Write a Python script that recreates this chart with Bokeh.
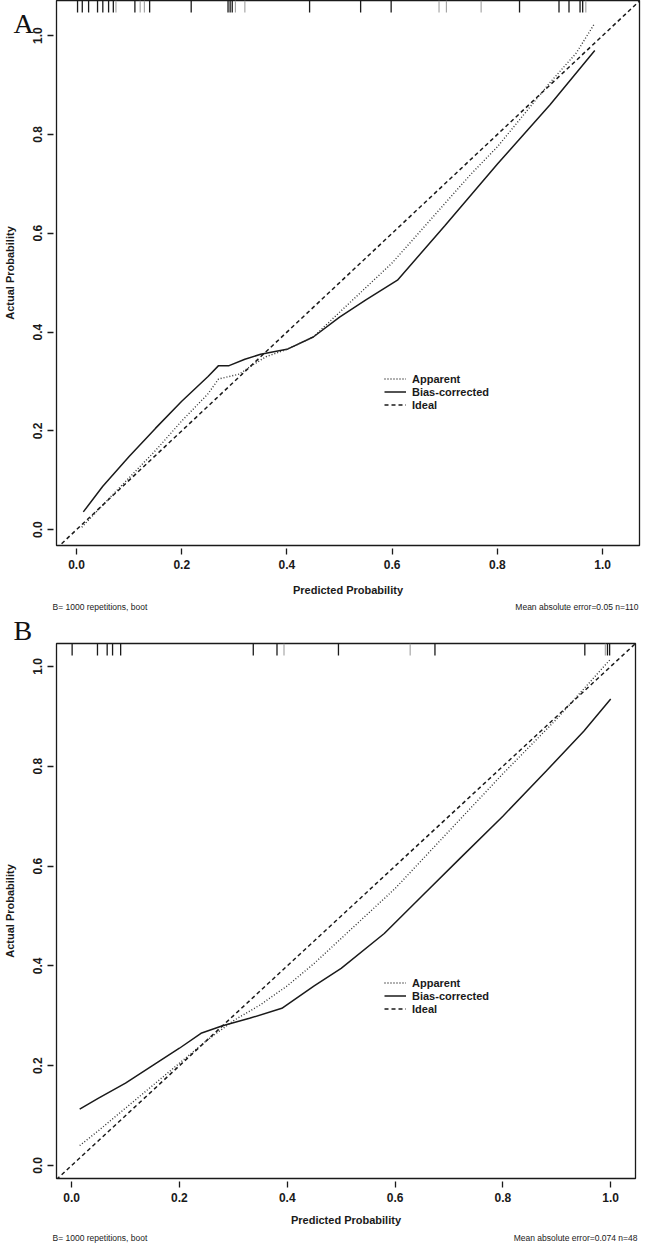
from bokeh.plotting import figure
from bokeh.layouts import column
from bokeh.models import Range1d, FixedTicker, PrintfTickFormatter, Label, Legend, LegendItem, Title
from bokeh.embed import file_html
from bokeh.resources import INLINE

TICKS = [0.0, 0.2, 0.4, 0.6, 0.8, 1.0]

# ---------------- Panel A data ----------------
a_app_x = [0.01, 0.05, 0.10, 0.15, 0.20, 0.25, 0.27, 0.29, 0.31, 0.33, 0.36, 0.40, 0.45, 0.50,
           0.55, 0.60, 0.65, 0.70, 0.75, 0.80, 0.85, 0.90, 0.95, 0.985]
a_app_y = [0.005, 0.05, 0.105, 0.16, 0.22, 0.275, 0.305, 0.31, 0.315, 0.33, 0.35, 0.365, 0.39, 0.44,
           0.49, 0.54, 0.60, 0.66, 0.72, 0.775, 0.84, 0.905, 0.965, 1.025]
a_bc_x = [0.013, 0.05, 0.10, 0.15, 0.20, 0.25, 0.27, 0.29, 0.32, 0.35, 0.40, 0.45, 0.50, 0.55,
          0.61, 0.70, 0.80, 0.90, 0.985]
a_bc_y = [0.036, 0.088, 0.148, 0.205, 0.26, 0.31, 0.332, 0.332, 0.345, 0.355, 0.365, 0.39, 0.43,
          0.465, 0.505, 0.615, 0.74, 0.86, 0.97]
a_rug_dark = [0.002, 0.011, 0.023, 0.040, 0.050, 0.061, 0.070, 0.111, 0.139, 0.218, 0.288, 0.292,
              0.296, 0.443, 0.540, 0.598, 0.842, 0.917, 0.936, 0.957, 0.962]
a_rug_light = [0.075, 0.121, 0.129, 0.302, 0.320, 0.689, 0.703, 0.769, 0.968]
a_footer_left = "B= 1000 repetitions, boot"
a_footer_right = "Mean absolute error=0.05 n=110"

# ---------------- Panel B data ----------------
b_app_x = [0.015, 0.05, 0.10, 0.15, 0.20, 0.25, 0.30, 0.35, 0.40, 0.45, 0.50, 0.60, 0.70,
           0.80, 0.90, 0.95, 1.0]
b_app_y = [0.04, 0.07, 0.115, 0.16, 0.205, 0.25, 0.29, 0.322, 0.36, 0.405, 0.455, 0.555, 0.67,
           0.785, 0.895, 0.955, 1.015]
b_bc_x = [0.015, 0.05, 0.10, 0.15, 0.20, 0.24, 0.28, 0.33, 0.39, 0.45, 0.50, 0.58, 0.65, 0.72,
          0.80, 0.88, 0.95, 1.0]
b_bc_y = [0.113, 0.135, 0.165, 0.2, 0.235, 0.265, 0.28, 0.295, 0.315, 0.36, 0.395, 0.465, 0.54,
          0.615, 0.70, 0.79, 0.87, 0.935]
b_rug_dark = [0.001, 0.048, 0.066, 0.076, 0.091, 0.337, 0.381, 0.495, 0.674, 0.952, 0.994, 0.998]
b_rug_light = [0.394, 0.628, 0.990]
b_footer_left = "B= 1000 repetitions, boot"
b_footer_right = "Mean absolute error=0.074 n=48"

INK = "#1a1a1a"
SANS = "Liberation Sans"


def make_panel(letter, letter_standoff, app_x, app_y, bc_x, bc_y, rug_dark, rug_light,
               xr, yr, height, frame_h, b_top, b_right, b_bottom, xlab_standoff, leg_loc):
    p = figure(width=649, height=height, x_range=Range1d(*xr), y_range=Range1d(*yr),
               output_backend="svg", toolbar_location=None, frame_align=False,
               min_border_left=55, min_border_right=b_right, min_border_top=b_top,
               min_border_bottom=b_bottom, background_fill_color="white",
               border_fill_color="white")
    p.grid.visible = False
    p.outline_line_color = INK
    p.outline_line_width = 1.3

    for ax in (p.xaxis[0], p.yaxis[0]):
        ax.ticker = FixedTicker(ticks=TICKS)
        ax.formatter = PrintfTickFormatter(format="%.1f")
        ax.axis_line_color = None
        ax.major_tick_in = -3
        ax.major_tick_out = 9
        ax.minor_tick_in = 0
        ax.minor_tick_out = 0
        ax.major_tick_line_color = INK
        ax.major_tick_line_width = 1.3
        ax.major_label_text_font = SANS
        ax.major_label_text_font_size = "12px"
        ax.major_label_text_font_style = "bold"
        ax.major_label_text_color = INK
        ax.major_label_standoff = 5
        ax.axis_label_text_font = SANS
        ax.axis_label_text_font_size = "11px"
        ax.axis_label_text_font_style = "bold"
        ax.axis_label_text_color = INK
    p.xaxis.axis_label = "Predicted Probability"
    p.xaxis.axis_label_standoff = xlab_standoff
    p.yaxis.axis_label = "Actual Probability"
    p.yaxis.axis_label_standoff = 15
    p.yaxis.major_label_orientation = "vertical"

    r_ideal = p.line(x=[xr[0], xr[1]], y=[xr[0], xr[1]], line_color=INK, line_width=1.5,
                     line_dash="4 3")
    r_bc = p.line(x=bc_x, y=bc_y, line_color=INK, line_width=1.5)
    r_app = p.line(x=app_x, y=app_y, line_color="#333333", line_width=1.4, line_dash="1 2")

    ppu = frame_h / (yr[1] - yr[0])
    h = 12.0 / ppu
    top = yr[1]
    p.segment(x0=rug_dark, y0=[top] * len(rug_dark), x1=rug_dark, y1=[top - h] * len(rug_dark),
              line_color=INK, line_width=1.3)
    p.segment(x0=rug_light, y0=[top] * len(rug_light), x1=rug_light,
              y1=[top - h] * len(rug_light), line_color="#a0a0a0", line_width=1.1)

    legend = Legend(items=[LegendItem(label="Apparent", renderers=[r_app]),
                           LegendItem(label="Bias-corrected", renderers=[r_bc]),
                           LegendItem(label="Ideal", renderers=[r_ideal])],
                    location=leg_loc, border_line_color=None, background_fill_alpha=0,
                    padding=0, margin=0, spacing=0, label_height=13, glyph_height=13,
                    glyph_width=22, label_standoff=6, label_text_font=SANS,
                    label_text_font_size="11px", label_text_font_style="bold",
                    label_text_color=INK)
    p.add_layout(legend)

    p.add_layout(Title(text=letter, align="left", vertical_align="bottom", offset=-43,
                       standoff=letter_standoff, text_font="Liberation Serif",
                       text_font_size="28px", text_font_style="normal",
                       text_color="#111111"), "above")
    return p


def make_footer(left_text, right_text, height, right_x):
    f = figure(width=649, height=height, x_range=Range1d(0, 649), y_range=Range1d(0, height),
               output_backend="svg", toolbar_location=None, frame_align=False,
               min_border=0, min_border_left=0, min_border_right=0, min_border_top=0,
               min_border_bottom=0, x_axis_location=None, y_axis_location=None,
               outline_line_color=None, background_fill_color="white",
               border_fill_color="white")
    f.grid.visible = False
    f.add_layout(Label(x=52, y=height / 2, text=left_text, text_font=SANS,
                       text_font_size="8.5px", text_color=INK, text_baseline="middle",
                       text_align="left"))
    f.add_layout(Label(x=right_x, y=height / 2, text=right_text, text_font=SANS,
                       text_font_size="8.5px", text_color=INK, text_baseline="middle",
                       text_align="right"))
    return f


pA = make_panel("A", -76, a_app_x, a_app_y, a_bc_x, a_bc_y, a_rug_dark, a_rug_light,
                (-0.038, 1.07), (-0.032, 1.071), 600, 545, 0, 10, 55, 12, (328, 134))
fA = make_footer(a_footer_left, a_footer_right, 13, 638)
pB = make_panel("B", -4, b_app_x, b_app_y, b_bc_x, b_bc_y, b_rug_dark, b_rug_light,
                (-0.028, 1.046), (-0.026, 1.046), 617, 535, 30, 14, 52, 9, (328, 163))
fB = make_footer(b_footer_left, b_footer_right, 15, 637)

layout = column(pA, fA, pB, fB, spacing=0)
open("out.html", "w").write(file_html(layout, INLINE))
